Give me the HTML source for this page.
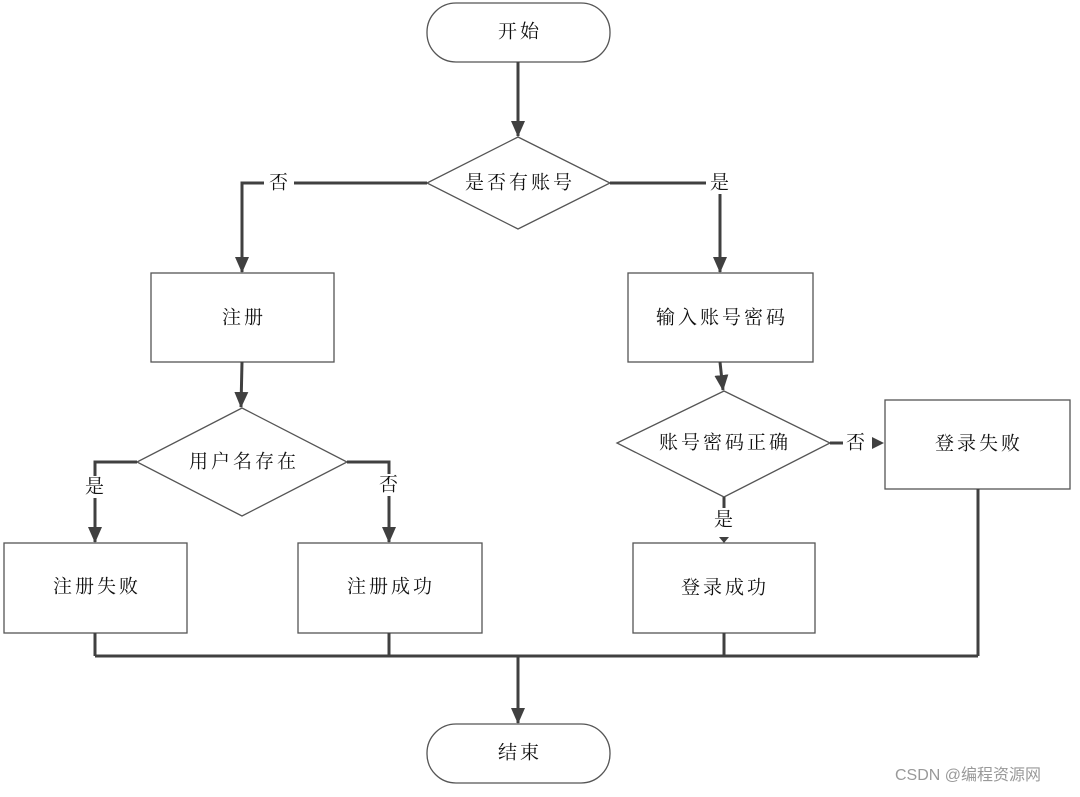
<!DOCTYPE html>
<html><head><meta charset="utf-8"><style>
html,body{margin:0;padding:0;background:#fff;}
svg text{font-family:"Liberation Serif","Noto Serif CJK SC",serif;font-size:19px;fill:#111;letter-spacing:3px;}
</style></head><body>
<svg width="1080" height="792" viewBox="0 0 1080 792" xmlns="http://www.w3.org/2000/svg">
<defs>
<marker id="a" markerWidth="10" markerHeight="10" refX="9" refY="5" orient="auto" markerUnits="userSpaceOnUse" viewBox="0 0 10 10"><path d="M0,0 L10,5 L0,10 z" fill="#404040"/></marker>
<marker id="b" markerWidth="16" markerHeight="14" refX="15" refY="7" orient="auto" markerUnits="userSpaceOnUse" viewBox="0 0 16 14"><path d="M0,0 L16,7 L0,14 z" fill="#404040"/></marker>
</defs>
<g fill="#fff" stroke="#555" stroke-width="1.3">
<rect x="427" y="3" width="183" height="59" rx="29"/>
<polygon points="518,137 610,183 518,229 427,183"/>
<rect x="151" y="273" width="183" height="89"/>
<rect x="628" y="273" width="185" height="89"/>
<polygon points="242,408 347,462 242,516 137,462"/>
<rect x="4" y="543" width="183" height="90"/>
<rect x="298" y="543" width="184" height="90"/>
<polygon points="724,391 830,443 724,497 617,443"/>
<rect x="885" y="400" width="185" height="89"/>
<rect x="633" y="543" width="182" height="90"/>
<rect x="427" y="724" width="183" height="59" rx="29"/>
</g>
<g fill="none" stroke="#404040" stroke-width="3">
<path d="M518,62 V136" marker-end="url(#b)"/>
<path d="M427,183 H242 V272" marker-end="url(#b)"/>
<path d="M610,183 H720 V272" marker-end="url(#b)"/>
<path d="M242,362 L241,407" marker-end="url(#b)"/>
<path d="M720,362 L723,390" marker-end="url(#b)"/>
<path d="M137,462 H95 V542" marker-end="url(#b)"/>
<path d="M347,462 H389 V542" marker-end="url(#b)"/>
<path d="M830,443 H843"/>
<path d="M724,497 V508"/>
<path d="M95,633 V656 M389,633 V656 M724,633 V656 M978,489 V656 M95,656 H978"/>
<path d="M518,656 V723" marker-end="url(#b)"/>
</g>
<path d="M872,437 L884,443 L872,449 z" fill="#404040"/>
<path d="M719,537 L729,537 L724,543 z" fill="#404040"/>
<rect x="264" y="172" width="30" height="22" fill="#fff"/>
<rect x="706" y="172" width="30" height="22" fill="#fff"/>
<rect x="80" y="476" width="30" height="22" fill="#fff"/>
<rect x="374" y="474" width="30" height="22" fill="#fff"/>
<g text-anchor="middle" dominant-baseline="central">
<text x="520" y="32">开始</text>
<text x="520" y="183">是否有账号</text>
<text x="280" y="183">否</text>
<text x="721" y="183">是</text>
<text x="244" y="318">注册</text>
<text x="722" y="318">输入账号密码</text>
<text x="244" y="462">用户名存在</text>
<text x="96" y="487">是</text>
<text x="390" y="485">否</text>
<text x="97" y="587">注册失败</text>
<text x="391" y="587">注册成功</text>
<text x="725" y="443">账号密码正确</text>
<text x="857" y="443">否</text>
<text x="979" y="444">登录失败</text>
<text x="725" y="520">是</text>
<text x="725" y="588">登录成功</text>
<text x="520" y="753">结束</text>
</g>
<text x="895" y="780" style="font-family:'Liberation Sans','Noto Sans CJK SC',sans-serif;font-size:16px;fill:#999;letter-spacing:0">CSDN @编程资源网</text>
</svg>
</body></html>
